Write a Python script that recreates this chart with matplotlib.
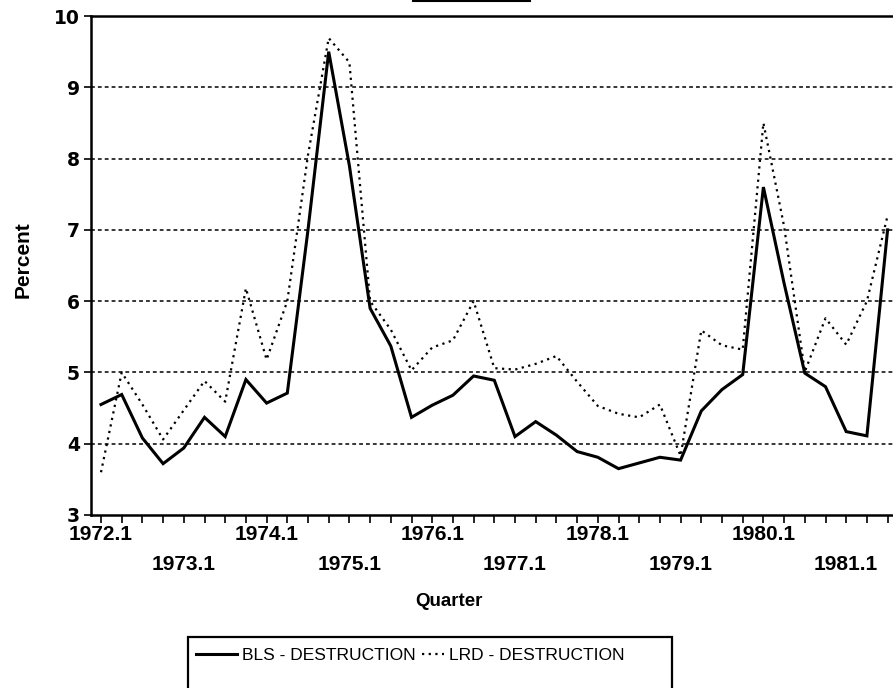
import matplotlib
matplotlib.use("Agg")
import matplotlib.pyplot as plt
from matplotlib.lines import Line2D
from matplotlib.patches import Rectangle

# ---- data ----
quarters = [f"{y}.{q}" for y in range(1972, 1982) for q in range(1, 5)][:39]
bls_destruction = [4.55, 4.69, 4.08, 3.72, 3.94, 4.37, 4.10, 4.90, 4.57, 4.71,
                   7.00, 9.50, 7.90, 5.90, 5.37, 4.37, 4.54, 4.68, 4.95, 4.89,
                   4.10, 4.31, 4.12, 3.89, 3.81, 3.65, 3.73, 3.81, 3.77, 4.46,
                   4.76, 4.97, 7.60, 6.25, 4.99, 4.80, 4.17, 4.11, 7.00]
lrd_destruction = [3.60, 5.00, 4.55, 4.06, 4.47, 4.88, 4.59, 6.18, 5.18, 6.00,
                   8.05, 9.69, 9.35, 6.00, 5.60, 5.03, 5.35, 5.45, 6.00, 5.06,
                   5.04, 5.12, 5.23, 4.87, 4.53, 4.42, 4.37, 4.55, 3.83, 5.59,
                   5.38, 5.32, 8.50, 7.05, 5.01, 5.76, 5.39, 6.00, 7.20]
row1_labels = ["1972.1", "1974.1", "1976.1", "1978.1", "1980.1"]
row2_labels = ["1973.1", "1975.1", "1977.1", "1979.1", "1981.1"]
y_ticks = [3, 4, 5, 6, 7, 8, 9, 10]

W, H = 893, 688
fig = plt.figure(figsize=(W / 100, H / 100), dpi=100)
ax = fig.add_axes([91 / W, 1 - 515 / H, (900 - 91) / W, (515 - 16) / H])

x = list(range(len(quarters)))
for yv in y_ticks[1:-1]:
    ax.axhline(yv, color="black", lw=1.1, ls=(0, (2.5, 2)), zorder=1)

l1, = ax.plot(x, bls_destruction, color="black", lw=2.2, solid_joinstyle="miter",
              label="BLS - DESTRUCTION", zorder=3)
l2, = ax.plot(x, lrd_destruction, color="black", lw=1.6, ls=(0, (1, 2)),
              label="LRD - DESTRUCTION", zorder=2)

sp = 20.7
ax.set_xlim(-10 / sp, (900 - 101) / sp)
ax.set_ylim(3, 10)

ticklabels = []
for q in quarters:
    if q in row1_labels:
        ticklabels.append(q)
    elif q in row2_labels:
        ticklabels.append("\n" + q)
    else:
        ticklabels.append("")
ax.set_xticks(x)
ax.set_xticklabels(ticklabels, fontsize=15, fontweight="bold",
                   family="Liberation Sans")
for lbl in ax.get_xticklabels():
    lbl.set_linespacing(1.75)
ax.tick_params(axis="x", direction="out", length=6, width=1.2, pad=1)

ax.set_yticks(y_ticks)
ax.set_yticklabels([str(v) for v in y_ticks], fontsize=13.5, fontweight="bold",
                   family="DejaVu Sans")
ax.tick_params(axis="y", direction="out", length=5, width=1.2, pad=3)

for s in ["left", "top", "bottom"]:
    ax.spines[s].set_linewidth(1.8)
ax.spines["right"].set_visible(False)

ax.set_xlabel("Quarter", fontsize=13.5, fontweight="bold", family="Liberation Sans")
ax.xaxis.set_label_coords((449 - 91) / 809, (515 - 593) / 499)
ax.set_ylabel("Percent", fontsize=15, fontweight="bold", family="Liberation Sans")
ax.yaxis.set_label_coords((33 - 91) / 809, (515 - 260) / 499)

# legend (two entries placed side by side, the dotted sample is shorter)
common = dict(loc="center left", frameon=False, borderpad=0, borderaxespad=0,
              handletextpad=0.3, prop={"family": "Liberation Sans", "size": 12.5})
fig.legend([l1], [l1.get_label()], bbox_to_anchor=(196 / W, 1 - 655 / H),
           handlelength=2.35, **common)
fig.legend([l2], [l2.get_label()], bbox_to_anchor=(422 / W, 1 - 655 / H),
           handlelength=1.25, **common)
fig.add_artist(Rectangle((188 / W, -0.05), (672 - 188) / W, (1 - 637 / H) + 0.05,
                         transform=fig.transFigure, fill=False, lw=1.6,
                         edgecolor="black", clip_on=False))
# remnant of a cropped title box at the very top
fig.add_artist(Line2D([413 / W, 530 / W], [1 - 1 / H, 1 - 1 / H],
                      transform=fig.transFigure, color="black", lw=1.5))

fig.savefig("out.png", dpi=100)
